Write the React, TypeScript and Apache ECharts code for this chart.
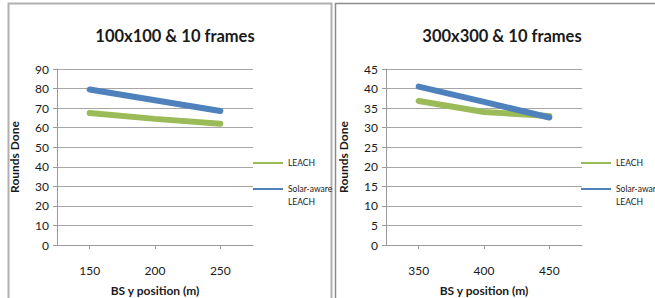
import React, { useEffect, useRef } from "react";
import * as echarts from "echarts";

const leftCategories = ["150", "200", "250"];
const rightCategories = ["350", "400", "450"];
const leftLeach = [67.5, 64.5, 62];
const leftSolar = [79.5, 74, 68.5];
const rightLeach = [36.8, 34, 33];
const rightSolar = [40.5, 36.6, 32.6];
const leftTitle = "100x100 & 10 frames";
const rightTitle = "300x300 & 10 frames";
const seriesNames = ["LEACH", "Solar-aware\nLEACH"];
const xAxisName = "BS y position (m)";
const yAxisName = "Rounds Done";

const GREEN = "#9bbb59";
const BLUE = "#4f81bd";
const FONT = "Lato, 'Open Sans', sans-serif";

export default function App() {
  const ref = useRef<HTMLDivElement>(null);
  useEffect(() => {
    if (!ref.current) return;
    const chart = echarts.init(ref.current, null, { renderer: "svg" });
    const mkX = (idx: number, data: string[]) => ({
      type: "category",
      gridIndex: idx,
      data,
      boundaryGap: true,
      name: xAxisName,
      nameLocation: "middle",
      nameGap: 39,
      nameTextStyle: { fontFamily: FONT, fontSize: 12, fontWeight: "bold", color: "#1a1a1a" },
      axisLine: { lineStyle: { color: "#9a9a9a", width: 1 } },
      axisTick: { show: true, alignWithLabel: true, length: 4, lineStyle: { color: "#9a9a9a" } },
      axisLabel: { fontFamily: FONT, fontSize: 12, color: "#1a1a1a", margin: 19 },
      splitLine: { show: false },
    });
    const mkY = (idx: number, max: number, interval: number) => ({
      type: "value",
      gridIndex: idx,
      min: 0,
      max,
      interval,
      name: yAxisName,
      nameLocation: "middle",
      nameGap: 37,
      nameRotate: 90,
      nameTextStyle: { fontFamily: FONT, fontSize: 12, fontWeight: "bold", color: "#1a1a1a" },
      axisLine: { show: true, lineStyle: { color: "#9a9a9a", width: 1 } },
      axisTick: { show: true, length: 4, lineStyle: { color: "#9a9a9a" } },
      axisLabel: { fontFamily: FONT, fontSize: 12, color: "#1a1a1a", margin: 8 },
      splitLine: { show: true, lineStyle: { color: "#a6a6a6", width: 1 } },
    });
    const mkSeries = (name: string, data: number[], color: string, idx: number) => ({
      type: "line",
      name,
      xAxisIndex: idx,
      yAxisIndex: idx,
      data,
      symbol: "none",
      smooth: false,
      lineStyle: { color, width: 6, cap: "round" },
      itemStyle: { color },
    });
    const mkLegend = (left: number) => ({
      orient: "vertical",
      left,
      top: 156.5,
      padding: 0,
      itemWidth: 30,
      itemHeight: 2,
      itemGap: 0,
      icon: "rect",
      selectedMode: false,
      textStyle: { fontFamily: FONT, fontSize: 8.5, color: "#1a1a1a", lineHeight: 13 },
      formatter: (name: string) => (name.indexOf("\n") >= 0 ? "\n" + name : name),
      data: seriesNames,
    });
    chart.setOption({
      animation: false,
      backgroundColor: "#ffffff",
      title: [
        {
          text: leftTitle,
          left: 170,
          top: 22,
          textAlign: "center",
          textStyle: { fontFamily: FONT, fontSize: 16.5, fontWeight: "bold", color: "#1a1a1a" },
        },
        {
          text: rightTitle,
          left: 497,
          top: 22,
          textAlign: "center",
          textStyle: { fontFamily: FONT, fontSize: 16.5, fontWeight: "bold", color: "#1a1a1a" },
        },
      ],
      legend: [mkLegend(253), mkLegend(581)],
      grid: [
        { left: 57, top: 69, width: 196, height: 176, outerBoundsMode: "none", containLabel: false },
        { left: 386, top: 69, width: 196, height: 176, outerBoundsMode: "none", containLabel: false },
      ],
      xAxis: [mkX(0, leftCategories), mkX(1, rightCategories)],
      yAxis: [mkY(0, 90, 10), mkY(1, 45, 5)],
      series: [
        mkSeries(seriesNames[0], leftLeach, GREEN, 0),
        mkSeries(seriesNames[1], leftSolar, BLUE, 0),
        mkSeries(seriesNames[0], rightLeach, GREEN, 1),
        mkSeries(seriesNames[1], rightSolar, BLUE, 1),
      ],
      graphic: [
        {
          type: "rect",
          shape: { x: 8.5, y: 3.5, width: 323, height: 310 },
          style: { fill: "none", stroke: "#b0b0b0", lineWidth: 2 },
          silent: true,
        },
        {
          type: "rect",
          shape: { x: 335.5, y: 3.5, width: 330, height: 310 },
          style: { fill: "none", stroke: "#8c8c8c", lineWidth: 1.5 },
          silent: true,
        },
      ],
    });
    return () => chart.dispose();
  }, []);
  return <div ref={ref} style={{ width: 655, height: 298, position: "fixed", left: 0, top: 0 }} />;
}
